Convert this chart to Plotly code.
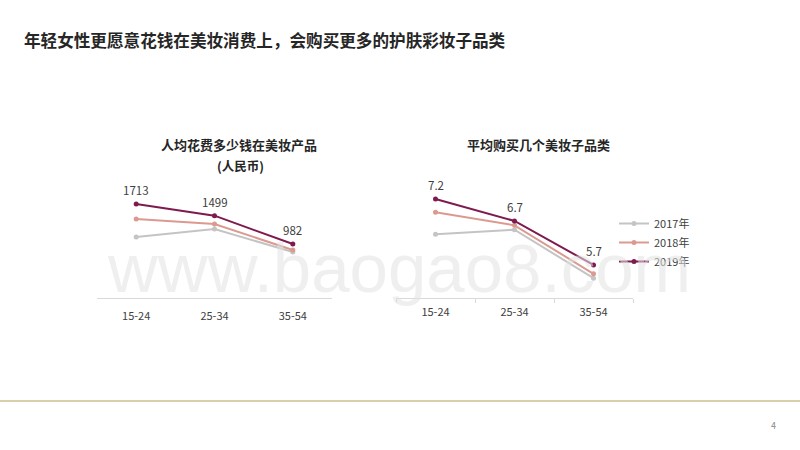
import plotly.graph_objects as go

age_groups = ["15-24", "25-34", "35-54"]
years = ["2017年", "2018年", "2019年"]
spend_2017 = [1110, 1256, 837]
spend_2018 = [1438, 1347, 874]
spend_2019 = [1713, 1499, 982]
cats_2017 = [6.4, 6.5, 5.4]
cats_2018 = [6.9, 6.6, 5.5]
cats_2019 = [7.2, 6.7, 5.7]

colors = ["#C4C4C4", "#DB9A90", "#7E1A4E"]
FONT = "Noto Sans CJK SC"

fig = go.Figure()
spend = [spend_2017, spend_2018, spend_2019]
cats = [cats_2017, cats_2018, cats_2019]
for i in range(3):
    fig.add_trace(go.Scatter(
        x=age_groups, y=spend[i], mode="lines+markers", name=years[i],
        line=dict(color=colors[i], width=2), marker=dict(color=colors[i], size=5),
        xaxis="x", yaxis="y", showlegend=False))
for i in range(3):
    fig.add_trace(go.Scatter(
        x=age_groups, y=cats[i], mode="lines+markers", name=years[i],
        line=dict(color=colors[i], width=2), marker=dict(color=colors[i], size=5),
        xaxis="x2", yaxis="y2", showlegend=True))

W, H = 800, 450
y0 = 1 - 298 / H
y1 = 1 - 180 / H
xaxis_common = dict(type="category", range=[-0.5, 2.5], showgrid=False, zeroline=False,
                    showline=True, linecolor="#D9D9D9", linewidth=1,
                    tickson="boundaries", ticklen=4, tickcolor="#D9D9D9",
                    tickfont=dict(size=11, color="#404040", family=FONT), fixedrange=True)
yaxis_common = dict(visible=False, showgrid=False, zeroline=False, fixedrange=True)

fig.update_layout(
    width=W, height=H,
    margin=dict(l=0, r=0, t=0, b=0),
    paper_bgcolor="white", plot_bgcolor="rgba(0,0,0,0)",
    font=dict(family=FONT, color="#404040"),
    xaxis=dict(domain=[97 / W, 332 / W], anchor="y", ticks="", ticklabelstandoff=8,
               **xaxis_common),
    yaxis=dict(domain=[y0, y1], range=[0, 2148], anchor="x", **yaxis_common),
    xaxis2=dict(domain=[396 / W, 633 / W], anchor="y2", ticks="outside", ticklabelstandoff=4,
                **xaxis_common),
    yaxis2=dict(domain=[y0, y1], range=[4.95, 7.63], anchor="x2", **yaxis_common),
    legend=dict(x=614 / W, y=1 - 209 / H, xanchor="left", yanchor="top",
                font=dict(size=11, color="#404040", family=FONT),
                itemwidth=30, tracegroupgap=0, bgcolor="rgba(0,0,0,0)"),
    showlegend=True,
)

annotations = [
    dict(text="<b>年轻女性更愿意花钱在美妆消费上，会购买更多的护肤彩妆子品类</b>",
         x=22 / W, y=1 - 40 / H, xref="paper", yref="paper", xanchor="left", yanchor="middle",
         showarrow=False, font=dict(size=16.6, color="#262626", family=FONT)),
    dict(text="<b>人均花费多少钱在美妆产品</b>", x=239 / W, y=1 - 145 / H, xref="paper", yref="paper",
         xanchor="center", yanchor="middle", showarrow=False,
         font=dict(size=13, color="#262626", family=FONT)),
    dict(text="<b>(人民币)</b>", x=240 / W, y=1 - 165 / H, xref="paper", yref="paper",
         xanchor="center", yanchor="middle", showarrow=False,
         font=dict(size=12.5, color="#262626", family=FONT)),
    dict(text="<b>平均购买几个美妆子品类</b>", x=538 / W, y=1 - 144 / H, xref="paper", yref="paper",
         xanchor="center", yanchor="middle", showarrow=False,
         font=dict(size=13, color="#262626", family=FONT)),
    dict(text="www.baogao8.com", x=399 / W, y=1 - 268 / H, xref="paper", yref="paper",
         xanchor="center", yanchor="middle", showarrow=False,
         font=dict(size=69, color="rgba(225,225,225,0.55)", family="Liberation Sans")),
    dict(text="4", x=773 / W, y=1 - 425 / H, xref="paper", yref="paper",
         xanchor="center", yanchor="middle", showarrow=False,
         font=dict(size=9, color="#8C8C8C", family=FONT)),
]
# data labels for 2019 series, anchored to the data
for xv, yv in zip(age_groups, spend_2019):
    annotations.append(dict(text=str(yv), x=xv, y=yv, xref="x", yref="y", showarrow=False,
                            yshift=14, font=dict(size=11.5, color="#404040", family=FONT)))
for xv, yv in zip(age_groups, cats_2019):
    annotations.append(dict(text=str(yv), x=xv, y=yv, xref="x2", yref="y2", showarrow=False,
                            yshift=14, font=dict(size=11.5, color="#404040", family=FONT)))
fig.update_layout(annotations=annotations)

fig.add_shape(type="line", xref="paper", yref="paper", x0=0, x1=1,
              y0=1 - 401 / H, y1=1 - 401 / H, line=dict(color="#D9CFA8", width=2))

fig.write_html("out.html", config={"displayModeBar": False},
               post_script="document.body.style.margin='0';document.body.style.overflow='hidden';")
